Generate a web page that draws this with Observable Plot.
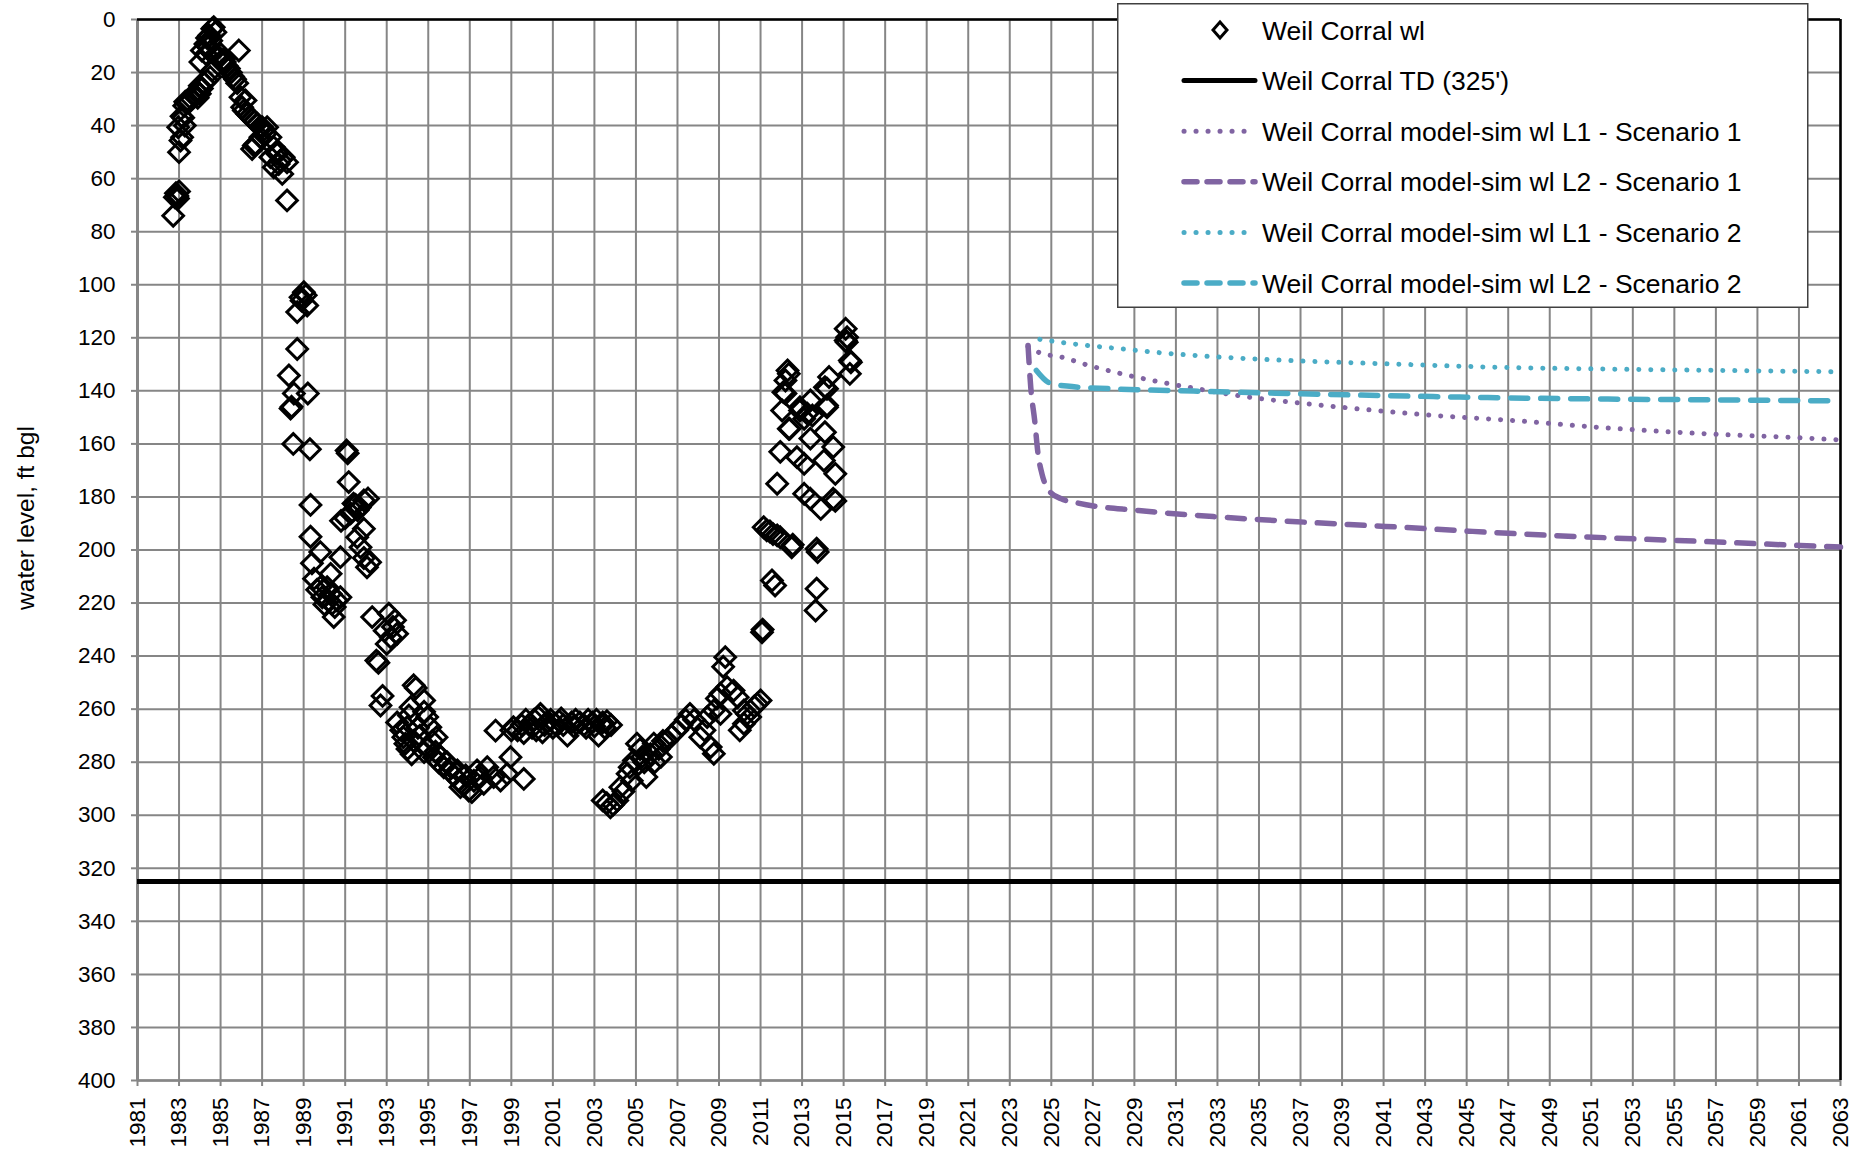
<!DOCTYPE html>
<html><head><meta charset="utf-8">
<script src="https://cdn.jsdelivr.net/npm/d3@7"></script>
<script src="https://cdn.jsdelivr.net/npm/@observablehq/plot@0.6"></script>
<style>
body{margin:0;background:#fff;font-family:"Liberation Sans",Arial,sans-serif;}
#wrap{position:relative;width:1866px;height:1150px;overflow:hidden;}
#wrap svg{display:block;}
.overlay{position:absolute;}
</style></head><body><div id="wrap"></div>
<script>
// ---------- data ----------
const xTicks = [1981,1983,1985,1987,1989,1991,1993,1995,1997,1999,2001,2003,2005,2007,2009,2011,2013,2015,2017,2019,2021,2023,2025,2027,2029,2031,2033,2035,2037,2039,2041,2043,2045,2047,2049,2051,2053,2055,2057,2059,2061,2063];
const yTicks = [0,20,40,60,80,100,120,140,160,180,200,220,240,260,280,300,320,340,360,380,400];
const yAxisTitle = "water level, ft bgl";
const legendLabels = ["Weil Corral wl","Weil Corral TD (325')","Weil Corral model-sim wl L1 - Scenario 1","Weil Corral model-sim wl L2 - Scenario 1","Weil Corral model-sim wl L1 - Scenario 2","Weil Corral model-sim wl L2 - Scenario 2"];
const tdLevel = [325];

// observed water level [decimal year, ft bgl]
const weilCorralWl = [
[1982.72,74],[1982.8,67],[1982.85,65.5],[1982.92,66.5],[1983.0,64.8],[1982.95,67.5],
[1983.0,50],[1983.07,45.6],[1983.15,44.4],[1982.96,40.6],[1983.28,40],[1983.12,36.5],[1983.2,37],
[1983.25,32.5],[1983.35,31.5],[1983.3,31],[1983.5,31],[1983.6,30],[1983.75,29],[1983.9,29.5],[1984.0,28],[1983.85,27],[1984.1,26],[1984.0,25],[1984.2,24],[1984.35,23],[1984.5,21.7],
[1984.03,16],[1984.6,19.2],[1984.1,11.7],[1984.27,9.2],[1984.35,7],[1984.45,6],[1984.6,3.5],[1984.67,2.9],[1984.75,4.8],[1984.4,10.5],[1984.55,8],[1984.3,13],[1984.5,12],
[1985.0,13],[1985.15,15],[1985.2,16],[1985.3,17.5],[1985.4,18.5],[1985.5,20],[1985.6,21.5],[1985.7,22.5],[1985.8,24],[1984.9,14],[1985.1,16.5],
[1985.88,11.7],
[1985.96,29.3],[1986.2,30.5],[1986.04,33.1],[1986.12,34.3],[1986.28,35.6],[1986.4,36.5],[1986.52,37.5],[1986.64,38.5],[1986.76,39.3],[1987.0,40.6],[1987.24,40.6],[1987.1,41.5],
[1986.68,46.9],[1986.52,48.8],[1986.6,47.5],[1986.92,44.4],[1987.16,43.1],[1987.4,44.4],[1987.56,48.1],[1987.73,50.6],[1987.4,51.9],[1987.88,53.2],[1988.04,51.9],[1987.56,55.7],[1987.97,58.2],[1988.2,53.8],[1987.8,54.5],[1988.2,68.2],
[1988.85,104.7],[1989.01,102.8],[1989.1,104],[1989.17,107.8],[1988.69,110.3],[1988.9,106],
[1988.69,124.2],[1988.29,134.2],[1988.53,141],[1989.2,141],[1988.37,146.7],[1988.42,146],
[1988.5,160],[1989.3,162],[1989.33,183],[1989.33,195],[1989.8,200.8],[1989.4,205],[1990.3,209],[1989.5,210.8],[1989.65,215],[1989.81,214],[1990.13,214],[1990.3,216.5],[1990.6,219],[1990.77,217.8],[1989.9,217.8],[1990.37,220.3],[1990.45,225.3],[1990.2,219],[1990.0,220.5],[1990.77,202.7],[1990.5,221.5],
[1991.07,162.5],[1991.12,163.5],[1991.17,174.4],[1992.1,180.6],[1991.9,181.3],[1991.4,182.5],[1991.6,185],[1991.26,186.2],[1990.8,189],[1991.0,188],[1991.9,192],[1991.58,195.2],[1991.74,199],[1991.9,203],[1992.2,204.6],[1992.05,206.5],[1991.7,184],[1991.5,183],
[1992.3,225.3],[1993.1,224],[1993.4,226.5],[1992.9,230.4],[1993.5,231.6],[1993.0,235.4],[1993.2,233],[1993.3,229],[1992.5,241.7],[1992.6,242.5],
[1994.3,251],[1994.4,252],[1992.8,255],[1994.8,256.7],[1992.7,258.6],[1994.15,259.3],[1994.8,261],[1994.07,262.4],[1994.95,263],[1995.1,266.8],[1995.4,270.6],[1993.98,266.8],[1993.8,270.6],[1993.9,273],[1994.0,275],[1994.2,277],[1994.95,274.3],[1994.8,276.2],[1993.5,265],[1993.7,268],[1994.5,267],[1994.6,270],[1994.3,272],[1995.2,272],
[1995.27,278.1],[1995.5,280],[1995.75,281.9],[1996.0,283.1],[1996.23,285],[1996.47,286.9],[1996.7,288.8],[1996.95,290.7],[1997.1,291.3],[1996.55,289.4],[1996.4,283.1],[1997.35,283.1],[1997.5,285.6],[1997.84,281.9],[1997.67,288.1],[1998.15,285.6],[1998.48,286.9],[1998.8,284.4],[1998.96,278.1],[1999.6,286.3],[1998.24,268.1],[1995.6,278],[1995.9,280],[1996.1,282],[1996.8,285],[1997.2,287],[1995.35,276],
[1999.1,266.8],[1999.3,268],[1999.5,266],[1999.7,264],[1999.9,265.5],[2000.1,264],[2000.3,263],[2000.4,261.8],[2000.5,268.7],[2000.7,265],[2000.9,264],[2001.1,265.5],[2001.3,264.5],[2001.5,266],[2001.7,270],[2001.9,265],[2002.1,264],[2002.3,265],[2002.5,266],[2002.7,264],[2002.9,265],[2003.1,264],[2003.2,270],[2003.4,265],[2003.6,264.5],[2003.8,266],[1999.0,268],[1999.6,269],[2000.0,267],[2000.2,268],[2000.6,266],[2001.0,267],[2001.4,263.5],[2002.0,266.5],[2002.6,267],[2003.0,266.5],[2003.5,267],
[2003.4,294.4],[2003.6,295.5],[2003.77,297],[2003.9,296],[2004.1,294.4],[2004.25,289.4],[2004.4,291],[2004.6,284.4],[2004.7,281.9],[2004.8,287],[2004.9,279.4],[2005.05,273],[2005.2,275],[2005.3,278],[2005.5,285.6],[2005.4,280],[2005.7,277],[2005.86,273],[2006.1,275],[2006.3,272],[2006.5,271.8],[2006.7,270],[2006.98,268],[2007.2,266],[2007.4,264],[2007.6,261.8],[2007.8,264],[2008.1,270.6],[2008.3,268],[2008.43,263],[2008.6,274.3],[2008.75,276.8],[2008.75,260.5],[2009.07,261.8],[2008.9,256],[2009.07,254.2],[2009.39,251.7],[2009.7,253],[2009.9,255.5],[2009.2,244],[2009.3,240.4],[2010.2,260.5],[2010.5,263],[2010.84,258],[2011.0,256.7],[2010.2,265.5],[2010.0,268],[2010.35,261.8],[2010.7,259],[2006.2,278],[2005.9,280],
[2011.07,231],[2011.1,230],[2013.65,222.8],[2011.15,191.4],[2011.3,192.6],[2011.45,193],[2011.6,194],[2011.8,194.5],[2011.95,195.2],[2012.5,199],[2012.55,198],[2013.7,199.5],[2013.75,200.8],[2011.55,211.5],[2011.7,213.4],[2013.7,214.6],[2011.8,175],[2013.1,178.8],[2013.4,180.7],[2013.9,184.5],[2014.5,180.7],[2014.6,181.5],[2011.95,163],[2012.75,165],[2013.1,167.5],[2014.05,166.3],[2014.5,161.2],[2014.6,171.3],[2013.4,158],[2014.1,155.6],[2012.36,154.3],[2012.04,147.4],[2012.9,146.2],[2013.25,148.6],[2013.1,150.5],[2013.5,149.3],[2013.4,143.6],[2014.2,145.5],[2012.2,141],[2012.3,132.3],[2012.36,133.6],[2012.2,136.1],[2012.1,140.5],[2014.3,134.8],[2014.1,138.6],[2014.2,139.2],[2015.3,128.6],[2015.35,129.2],[2015.3,133.6],[2015.1,121],[2015.1,116.6],[2015.17,119.8],[2015.15,121.7],[2014.2,146.2],[2012.4,154.3],[2012.9,147.4]
];

// model-simulated water levels [decimal year, ft bgl]
const simL1Scen1 = [[2023.88,123.3],[2024.46,125.7],[2025.5,127.3],[2026.8,130.4],[2028.4,133.6],[2030.26,136.7],[2032.1,139.3],[2034.0,141.8],[2036.6,144.3],[2039.8,146.8],[2043.5,149.3],[2047.26,151.2],[2051.8,154],[2056.55,156.2],[2061.06,157.7],[2063,158.5]];
const simL2Scen1 = [[2023.88,122.9],[2024.01,138.6],[2024.2,151.2],[2024.36,163.7],[2024.55,171.3],[2024.89,177.6],[2025.48,180.7],[2026.27,182.3],[2029.2,185.1],[2033.18,187.6],[2037.2,189.5],[2041.1,191.1],[2045.1,192.9],[2049.1,194.5],[2053.1,195.8],[2057.1,197],[2061.06,198.3],[2063,198.9]];
const simL1Scen2 = [[2024.45,120.6],[2025.75,122],[2027.9,123.8],[2030.5,125.8],[2033.2,127.3],[2037.2,128.8],[2041.1,129.8],[2046.45,131.1],[2051.8,131.8],[2057.1,132.3],[2063,132.8]];
const simL2Scen2 = [[2024.28,132.3],[2024.94,137.1],[2025.75,138.2],[2027.86,139.2],[2031.85,140.1],[2035.8,140.9],[2041.1,141.8],[2046.45,142.6],[2051.8,143.1],[2057.1,143.4],[2063,143.8]];

const purple = "#8064A2", aqua = "#4BACC6", gridGray = "#868686";
const dotted = {strokeWidth: 5, strokeDasharray: "0.1,11.9", strokeLinecap: "round"};
const dashed = {strokeWidth: 5.5, strokeDasharray: "17,13", strokeLinecap: "round"};
const X = d => d[0], Y = d => d[1];

const chart = Plot.plot({
  width: 1866, height: 1150,
  marginLeft: 137, marginRight: 26, marginTop: 19, marginBottom: 70,
  style: {fontFamily: "'Liberation Sans', Arial, sans-serif", fontSize: "22px", color: "#000", background: "#fff", overflow: "visible"},
  x: {domain: [1981, 2063]},
  y: {domain: [0, 400], reverse: true},
  marks: [
    Plot.gridX(xTicks, {stroke: gridGray, strokeOpacity: 1, strokeWidth: 2}),
    Plot.gridY(yTicks, {stroke: gridGray, strokeOpacity: 1, strokeWidth: 2}),
    Plot.axisX(xTicks, {tickFormat: d => String(d), tickRotate: -90, tickSize: 6, tickPadding: 11, stroke: gridGray, strokeWidth: 2, fontSize: 22.5, label: null}),
    Plot.axisY(yTicks, {tickSize: 6, tickPadding: 16, stroke: gridGray, strokeWidth: 2, fontSize: 22.5, label: null}),
    Plot.ruleX([1981], {stroke: gridGray, strokeWidth: 3}),
    Plot.ruleY([400], {stroke: gridGray, strokeWidth: 2.5}),
    Plot.ruleY([0], {stroke: "#000", strokeWidth: 2.5}),
    Plot.ruleX([2063], {stroke: "#000", strokeWidth: 2.5}),
    Plot.ruleY(tdLevel, {stroke: "#000", strokeWidth: 5}),
    Plot.line(simL2Scen1, {x: X, y: Y, stroke: purple, curve: "monotone-x", ...dashed}),
    Plot.line(simL1Scen1, {x: X, y: Y, stroke: purple, curve: "monotone-x", ...dotted}),
    Plot.line(simL2Scen2, {x: X, y: Y, stroke: aqua, curve: "monotone-x", ...dashed}),
    Plot.line(simL1Scen2, {x: X, y: Y, stroke: aqua, curve: "monotone-x", ...dotted}),
    Plot.dot(weilCorralWl, {x: X, y: Y, symbol: "diamond2", r: 9.3, stroke: "#000", strokeWidth: 3, fill: "none"})
  ]
});
const wrap = document.getElementById("wrap");
wrap.appendChild(chart);

// y axis title
const ns = "http://www.w3.org/2000/svg";
const t = document.createElementNS(ns, "svg");
t.setAttribute("class", "overlay");
t.setAttribute("width", 60); t.setAttribute("height", 1150);
t.style.left = "0px"; t.style.top = "0px";
t.innerHTML = `<text transform="translate(25,518) rotate(-90)" text-anchor="middle" dy="0.35em" font-family="'Liberation Sans', Arial, sans-serif" font-size="24.5" fill="#000">${yAxisTitle}</text>`;
wrap.appendChild(t);

// legend (inside plot area, top right)
const lg = document.createElementNS(ns, "svg");
lg.setAttribute("class", "overlay");
lg.setAttribute("width", 692); lg.setAttribute("height", 306);
lg.style.left = "1117px"; lg.style.top = "3px";
const rowY = i => 27 + i * 50.6;
let h = `<rect x="0.75" y="0.75" width="690" height="303.5" fill="#fff" stroke="#404040" stroke-width="1.5"/>`;
const sx0 = 67, sx1 = 138, cx = 103;
h += `<path d="M${cx},${rowY(0)-8} L${cx+7},${rowY(0)} L${cx},${rowY(0)+8} L${cx-7},${rowY(0)} Z" fill="none" stroke="#000" stroke-width="3"/>`;
h += `<line x1="${sx0}" x2="${sx1}" y1="${rowY(1)}" y2="${rowY(1)}" stroke="#000" stroke-width="5" stroke-linecap="round"/>`;
const styles = [[purple, dotted], [purple, dashed], [aqua, dotted], [aqua, dashed]];
styles.forEach(([c, s], k) => {
  const y = rowY(k + 2);
  const da = s === dashed ? "13,10" : s.strokeDasharray;
  h += `<line x1="${sx0}" x2="${sx1}" y1="${y}" y2="${y}" stroke="${c}" stroke-width="${s.strokeWidth}" stroke-dasharray="${da}" stroke-linecap="round"/>`;
});
legendLabels.forEach((lab, i) => {
  h += `<text x="145" y="${rowY(i)}" dy="0.36em" font-family="'Liberation Sans', Arial, sans-serif" font-size="26.5" fill="#000">${lab}</text>`;
});
lg.innerHTML = h;
wrap.appendChild(lg);
</script></body></html>
